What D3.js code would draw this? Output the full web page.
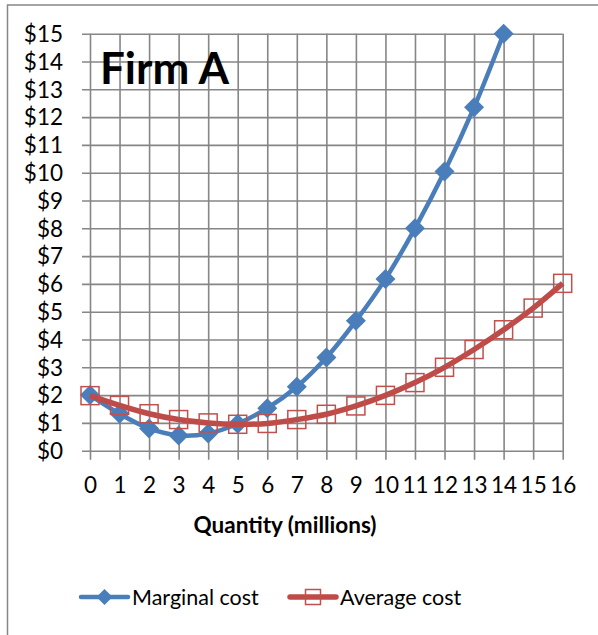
<!DOCTYPE html>
<html>
<head>
<meta charset="utf-8">
<script src="https://cdn.jsdelivr.net/npm/d3@7/dist/d3.min.js"></script>
<style>
  html, body { margin: 0; padding: 0; background: #fff; }
  svg { display: block; }
  text { font-family: Lato, "Open Sans", sans-serif; fill: #000; }
</style>
</head>
<body>
<svg id="chart" width="598" height="635"></svg>
<script>
// Quantity (millions) on the x axis
const quantities = [0, 1, 2, 3, 4, 5, 6, 7, 8, 9, 10, 11, 12, 13, 14, 15, 16];
// Marginal cost per unit, dollars (defined up to 14 million)
const marginalCost = [2.0, 1.33, 0.8, 0.55, 0.62, 0.97, 1.53, 2.3, 3.35, 4.67, 6.18, 8.0, 10.04, 12.35, 15.0];
// Average cost per unit, dollars
const averageCost = [1.98, 1.63, 1.33, 1.12, 1.0, 0.95, 0.98, 1.12, 1.31, 1.61, 1.99, 2.45, 3.0, 3.64, 4.35, 5.13, 6.02];
// Axis ticks
const xTicks = d3.range(0, 17);
const yTicks = d3.range(0, 16);
const seriesNames = ["Marginal cost", "Average cost"];
const chartTitle = "Firm A";
const xTitle = "Quantity (millions)";

const blue = "#4a7ebb";
const red = "#be4b48";
const grid = "#868686";
const tickFont = "22.5px";

const svg = d3.select("#chart");

// outer frame (extends beyond the visible canvas on the right and bottom)
svg.append("rect")
  .attr("x", 7.5).attr("y", 5)
  .attr("width", 800).attr("height", 800)
  .attr("fill", "none").attr("stroke", grid).attr("stroke-width", 1.5);

const x = d3.scaleLinear().domain([0, 16]).range([90, 562.7]);
const y = d3.scaleLinear().domain([0, 15]).range([450.7, 33.7]);

// horizontal gridlines with outside ticks
const yAxis = d3.axisLeft(y).tickValues(yTicks)
  .tickSize(0).tickSizeOuter(0)
  .tickFormat(d => "$" + d);
const gy = svg.append("g").attr("transform", `translate(${x(16)},0)`).call(yAxis);
gy.select(".domain").remove();
gy.selectAll(".tick line")
  .attr("x1", 0).attr("x2", -(x(16) - x(0)) - 8)
  .attr("stroke", grid).attr("stroke-width", 1.6);
gy.selectAll(".tick text")
  .attr("x", -(x(16) - 63)).attr("dy", null)
  .attr("y", 7.8)
  .attr("text-anchor", "end")
  .style("font-size", tickFont).style("font-family", "Lato, sans-serif").attr("fill", "#000");

// vertical gridlines with outside ticks
const xAxis = d3.axisBottom(x).tickValues(xTicks)
  .tickSize(0).tickSizeOuter(0).tickFormat(d3.format("d"));
const gx = svg.append("g").attr("transform", `translate(0,${y(0)})`).call(xAxis);
gx.select(".domain").remove();
gx.selectAll(".tick line")
  .attr("y1", 9).attr("y2", y(15) - y(0))
  .attr("stroke", grid).attr("stroke-width", 1.6);
gx.selectAll(".tick text")
  .attr("dy", null).attr("y", 42.5)
  .attr("text-anchor", "middle")
  .style("font-size", tickFont).style("font-family", "Lato, sans-serif").attr("fill", "#000");

// chart title inside the plot area
svg.append("text")
  .attr("x", 100).attr("y", 84)
  .style("font-size", "44px").style("font-weight", "bold")
  .text(chartTitle);

// x axis title
svg.append("text")
  .attr("x", 285).attr("y", 533)
  .attr("text-anchor", "middle")
  .style("font-size", "22.5px").style("font-weight", "bold")
  .text(xTitle);

const line = d3.line()
  .x((d, i) => x(quantities[i]))
  .y(d => y(d))
  .curve(d3.curveCatmullRom.alpha(0.5));

const diamond = (s) => `M0,${-s}L${s},0L0,${s}L${-s},0Z`;

// marginal cost series
svg.append("path").datum(marginalCost)
  .attr("d", line).attr("fill", "none")
  .attr("stroke", blue).attr("stroke-width", 4.5).attr("stroke-linejoin", "round");
svg.append("g").selectAll("path").data(marginalCost).join("path")
  .attr("transform", (d, i) => `translate(${x(quantities[i])},${y(d)})`)
  .attr("d", diamond(10)).attr("fill", blue);

// average cost series
svg.append("path").datum(averageCost)
  .attr("d", line).attr("fill", "none")
  .attr("stroke", red).attr("stroke-width", 5.5).attr("stroke-linejoin", "round");
svg.append("g").selectAll("rect").data(averageCost).join("rect")
  .attr("x", (d, i) => x(quantities[i]) - 9)
  .attr("y", d => y(d) - 9)
  .attr("width", 18).attr("height", 18)
  .attr("fill", "none").attr("stroke", "#c0504d").attr("stroke-width", 1.5);

// legend
const legendY = 597;
const lg = svg.append("g");
lg.append("line").attr("x1", 81).attr("x2", 128).attr("y1", legendY).attr("y2", legendY)
  .attr("stroke", blue).attr("stroke-width", 4.5).attr("stroke-linecap", "round");
lg.append("path").attr("transform", `translate(104.5,${legendY})`)
  .attr("d", diamond(8)).attr("fill", blue);
lg.append("text").attr("x", 132).attr("y", legendY + 8)
  .style("font-size", "21.5px").text(seriesNames[0]);

lg.append("line").attr("x1", 290).attr("x2", 336).attr("y1", legendY).attr("y2", legendY)
  .attr("stroke", red).attr("stroke-width", 5.5).attr("stroke-linecap", "round");
lg.append("rect").attr("x", 313 - 7.5).attr("y", legendY - 7.5)
  .attr("width", 15).attr("height", 15)
  .attr("fill", "none").attr("stroke", "#c0504d").attr("stroke-width", 1.5);
lg.append("text").attr("x", 340).attr("y", legendY + 8)
  .style("font-size", "21.5px").text(seriesNames[1]);
</script>
</body>
</html>
